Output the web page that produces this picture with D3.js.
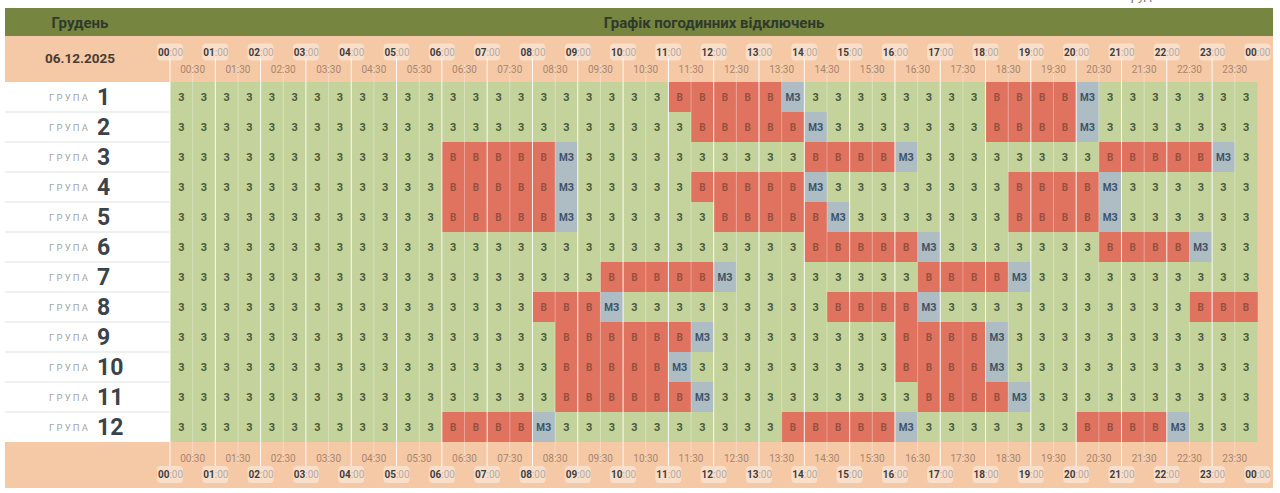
<!DOCTYPE html>
<html>
<head>
<meta charset="utf-8">
<script src="https://cdn.jsdelivr.net/npm/d3@7"></script>
<style>
  html, body { margin: 0; padding: 0; background: #fff; overflow: hidden; }
  svg { display: block; font-family: Roboto, sans-serif; }
</style>
</head>
<body>
<svg id="chart" width="1280" height="493"></svg>
<script>
const monthName = "Грудень";
const chartTitle = "Графік погодинних відключень";
const dateLabel = "06.12.2025";
const groupWord = "ГРУПА";

const hourLabels = d3.range(0, 25).map(h => String(h % 24).padStart(2, "0"));
const halfLabels = d3.range(0, 24).map(h => String(h).padStart(2, "0") + ":30");
const slots = d3.range(0, 24).flatMap(h => {
  let hh = String(h).padStart(2, "0");
  return [hh + ":00", hh + ":30"];
});

const groups = [1, 2, 3, 4, 5, 6, 7, 8, 9, 10, 11, 12];

// each outage: first slot with "В", the "МЗ" slot that closes it (null if the day ends first)
const group1 = [["11:00", "13:30"], ["18:00", "20:00"]];
const group2 = [["11:30", "14:00"], ["18:00", "20:00"]];
const group3 = [["06:00", "08:30"], ["14:00", "16:00"], ["20:30", "23:00"]];
const group4 = [["06:00", "08:30"], ["11:30", "14:00"], ["18:30", "20:30"]];
const group5 = [["06:00", "08:30"], ["12:00", "14:30"], ["18:30", "20:30"]];
const group6 = [["14:00", "16:30"], ["20:30", "22:30"]];
const group7 = [["09:30", "12:00"], ["16:30", "18:30"]];
const group8 = [["08:00", "09:30"], ["14:30", "16:30"], ["22:30", null]];
const group9 = [["08:30", "11:30"], ["16:00", "18:00"]];
const group10 = [["08:30", "11:00"], ["16:00", "18:00"]];
const group11 = [["08:30", "11:30"], ["16:30", "18:30"]];
const group12 = [["06:00", "08:00"], ["13:30", "16:00"], ["20:00", "22:00"]];
const outages = [group1, group2, group3, group4, group5, group6, group7, group8, group9, group10, group11, group12];

const stateFill = { "З": "#c4d39b", "В": "#e07360", "МЗ": "#aebcc4" };
const stateText = { "З": "#4a5a3a", "В": "#96503f", "МЗ": "#3f5468" };

function rowStates(list) {
  let row = slots.map(() => "З");
  list.forEach(([from, warn]) => {
    let a = slots.indexOf(from);
    let b = warn === null ? slots.length : slots.indexOf(warn);
    for (let i = a; i < b; i++) row[i] = "В";
    if (warn !== null) row[b] = "МЗ";
  });
  return row;
}

const x = d3.scaleBand().domain(slots).range([170, 1257.4]);
const y = d3.scaleBand().domain(groups).range([82, 442]);
const tickX = d3.scaleLinear().domain([0, 24]).range([170, 1257.4]);

const svg = d3.select("#chart");

// cropped line of text above the table
svg.append("text").attr("x", 1149).attr("y", 0).attr("text-anchor", "middle")
  .attr("font-size", 13).attr("fill", "#777").text(monthName);

// bands
svg.append("rect").attr("x", 5).attr("y", 8).attr("width", 1268).attr("height", 28).attr("fill", "#76853f");
svg.append("rect").attr("x", 5).attr("y", 36).attr("width", 1268).attr("height", 46).attr("fill", "#f5c9a6");
svg.append("rect").attr("x", 5).attr("y", 442).attr("width", 1268).attr("height", 46).attr("fill", "#f5c9a6");
svg.append("rect").attr("x", 1257.4).attr("y", 82).attr("width", 15.6).attr("height", 360).attr("fill", "#f5c9a6");

svg.append("text").attr("x", 80).attr("y", 28).attr("text-anchor", "middle")
  .attr("font-size", 15).attr("font-weight", 700).attr("fill", "#2f3a2c").text(monthName);
svg.append("text").attr("x", 714).attr("y", 28).attr("text-anchor", "middle")
  .attr("font-size", 15).attr("font-weight", 700).attr("fill", "#2f3a2c").text(chartTitle);
svg.append("text").attr("x", 80).attr("y", 63).attr("text-anchor", "middle")
  .attr("font-size", 13.5).attr("font-weight", 700).attr("fill", "#4a3c35").text(dateLabel);

// group labels
const labels = svg.append("g").selectAll("g").data(groups).join("g")
  .attr("transform", d => `translate(0,${y(d)})`);
labels.filter((d, i) => i < groups.length - 1).append("line")
  .attr("x1", 5).attr("x2", 170).attr("y1", y.bandwidth()).attr("y2", y.bandwidth())
  .attr("stroke", "#dfe3e2").attr("stroke-width", 1);
labels.append("text").attr("x", 49).attr("y", 19).attr("font-size", 9.5)
  .attr("letter-spacing", 2.2).attr("fill", "#a3a6a6").text(groupWord);
labels.append("text").attr("x", 97).attr("y", 23).attr("font-size", 23)
  .attr("font-weight", 700).attr("fill", "#3b4349").text(d => d);

// cells
const rows = svg.append("g").selectAll("g").data(groups).join("g")
  .attr("transform", d => `translate(0,${y(d)})`);
const cells = rows.selectAll("g").data((d, i) => rowStates(outages[i]).map((s, j) => ({ s, slot: slots[j] })))
  .join("g").attr("transform", d => `translate(${x(d.slot)},0)`);
cells.append("rect").attr("width", x.bandwidth() + 0.4).attr("height", y.bandwidth())
  .attr("fill", d => stateFill[d.s]);
cells.append("text").attr("x", x.bandwidth() / 2).attr("y", 18.5).attr("text-anchor", "middle")
  .attr("font-size", 10).attr("font-weight", 700)
  .attr("fill", d => stateText[d.s]).text(d => d.s);

// half hour dividers and hour dividers
const halfLines = svg.append("g").attr("stroke", "#fff").attr("stroke-opacity", 0.3);
halfLabels.forEach((t, i) => {
  halfLines.append("line").attr("x1", tickX(i + 0.5)).attr("x2", tickX(i + 0.5)).attr("y1", 64).attr("y2", 464);
});
const hourLines = svg.append("g").attr("stroke", "#fff").attr("stroke-opacity", 0.9);
hourLabels.slice(0, 24).forEach((t, i) => {
  hourLines.append("line").attr("x1", tickX(i)).attr("x2", tickX(i)).attr("y1", 58).attr("y2", 466);
});

// time labels, top and bottom
function drawTimes(hourY, halfY) {
  halfLabels.forEach((t, i) => {
    svg.append("text").attr("x", tickX(i + 0.5)).attr("y", halfY).attr("text-anchor", "middle")
      .attr("font-size", 10).attr("fill", "#a8866f").text(t);
  });
  hourLabels.forEach((t, i) => {
    let g = svg.append("g").attr("transform", `translate(${tickX(i)},${hourY})`);
    g.append("rect").attr("x", -13).attr("y", -8.5).attr("width", 26).attr("height", 17).attr("rx", 4)
      .attr("fill", "#fff").attr("fill-opacity", 0.4);
    let label = g.append("text").attr("text-anchor", "middle").attr("x", 0.5).attr("y", 3.5).attr("font-size", 10);
    label.append("tspan").attr("font-weight", 700).attr("fill", "#3f3f46").text(t);
    label.append("tspan").attr("fill", "#b5aca6").text(":00");
  });
}
drawTimes(52, 73);
drawTimes(474.5, 461.5);
</script>
</body>
</html>
